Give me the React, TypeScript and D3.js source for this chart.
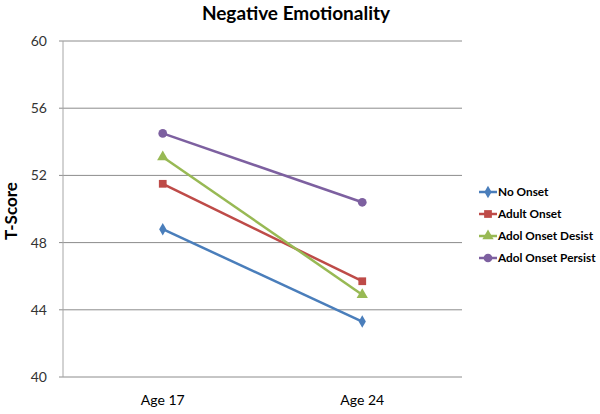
import React from "react";
import * as d3 from "d3";

const categories = ["Age 17", "Age 24"];
const seriesNames = ["No Onset", "Adult Onset", "Adol Onset Desist", "Adol Onset Persist"];
const noOnset = [48.8, 43.3];
const adultOnset = [51.5, 45.7];
const adolDesist = [53.1, 44.9];
const adolPersist = [54.5, 50.4];
const yTicks = [40, 44, 48, 52, 56, 60];
const colors = ["#4A7EBB", "#BE4B48", "#98B954", "#7D60A0"];
const shapes = ["diamond", "square", "triangle", "circle"];

const W = 600, H = 414;
const left = 63, right = 462, top = 41, bottom = 377;
const font = "Lato, 'Open Sans', sans-serif";

function Marker({ shape, x, y, color }: { shape: string; x: number; y: number; color: string }) {
  const sym =
    shape === "diamond" ? d3.symbolDiamond :
    shape === "square" ? d3.symbolSquare :
    shape === "triangle" ? d3.symbolTriangle : d3.symbolCircle;
  const size = shape === "diamond" ? 45 : shape === "square" ? 60 : shape === "triangle" ? 55 : 60;
  const p = d3.symbol().type(sym).size(size)()!;
  return <path d={p} transform={`translate(${x},${y})`} fill={color} />;
}

export default function App() {
  const x = d3.scaleBand().domain(categories).range([left, right]);
  const y = d3.scaleLinear().domain([40, 60]).range([bottom, top]);
  const data = [noOnset, adultOnset, adolDesist, adolPersist];
  const cx = (c: string) => (x(c) as number) + x.bandwidth() / 2;
  const line = d3.line<number>().x((_, i) => cx(categories[i])).y((v) => y(v));

  return (
    <svg width={W} height={H} style={{ position: "absolute", left: 0, top: 0, background: "#fff" }}>
      <rect width={W} height={H} fill="#fff" />
      <text x={296} y={20} textAnchor="middle" fontFamily={font} fontWeight="bold" fontSize={19} fill="#000">
        Negative Emotionality
      </text>
      {yTicks.map((t) => (
        <g key={t}>
          <line x1={left} x2={right} y1={y(t)} y2={y(t)} stroke="#8c8c8c" strokeWidth={1} />
          <line x1={left - 4} x2={left} y1={y(t)} y2={y(t)} stroke="#8c8c8c" strokeWidth={1} />
          <text x={47} y={y(t) + 5} textAnchor="end" fontFamily={font} fontSize={14} fill="#333">
            {t}
          </text>
        </g>
      ))}
      <line x1={left} x2={left} y1={top} y2={bottom} stroke="#a6a6a6" strokeWidth={1} />
      {categories.map((c) => (
        <text key={c} x={cx(c)} y={405} textAnchor="middle" fontFamily={font} fontSize={14} fill="#000">
          {c}
        </text>
      ))}
      <text
        transform={`translate(17,211) rotate(-90)`}
        textAnchor="middle"
        fontFamily={font}
        fontWeight="bold"
        fontSize={17}
        fill="#000"
      >
        T-Score
      </text>
      {data.map((s, i) => (
        <g key={seriesNames[i]}>
          <path d={line(s)!} fill="none" stroke={colors[i]} strokeWidth={2.5} />
          {s.map((v, j) => (
            <Marker key={j} shape={shapes[i]} x={cx(categories[j])} y={y(v)} color={colors[i]} />
          ))}
        </g>
      ))}
      {seriesNames.map((n, i) => {
        const ly = 192 + i * 22;
        return (
          <g key={n}>
            <line x1={479} x2={497} y1={ly} y2={ly} stroke={colors[i]} strokeWidth={2.5} />
            <Marker shape={shapes[i]} x={488} y={ly} color={colors[i]} />
            <text x={498} y={ly + 4} fontFamily={font} fontWeight="bold" fontSize={11.8} fill="#000">
              {n}
            </text>
          </g>
        );
      })}
    </svg>
  );
}
